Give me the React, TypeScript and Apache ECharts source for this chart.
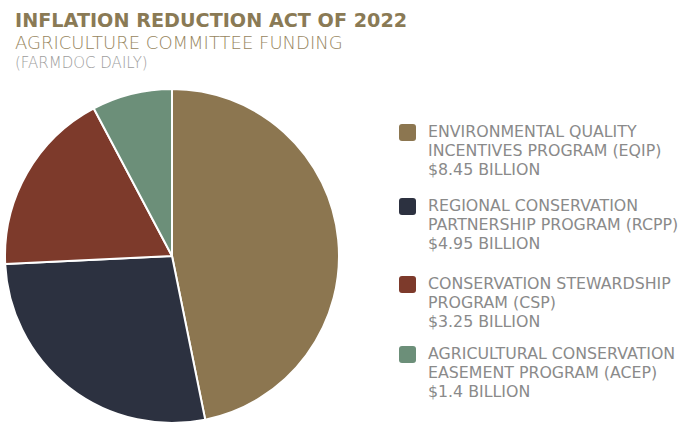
import React, { useEffect, useRef } from "react";
import * as echarts from "echarts";

const programNames = [
  ["ENVIRONMENTAL QUALITY", "INCENTIVES PROGRAM (EQIP)"],
  ["REGIONAL CONSERVATION", "PARTNERSHIP PROGRAM (RCPP)"],
  ["CONSERVATION STEWARDSHIP", "PROGRAM (CSP)"],
  ["AGRICULTURAL CONSERVATION", "EASEMENT PROGRAM (ACEP)"],
];
const fundingBillions = [8.45, 4.95, 3.25, 1.4];
const fundingLabels = ["$8.45 BILLION", "$4.95 BILLION", "$3.25 BILLION", "$1.4 BILLION"];
const sliceColors = ["#8c7650", "#2c3140", "#7d3a2b", "#6c8f79"];
const legendTops = [124, 198, 276, 346];

const FONT = "DejaVu Sans";

export default function App() {
  const ref = useRef<HTMLDivElement>(null);
  useEffect(() => {
    if (!ref.current) return;
    const chart = echarts.init(ref.current, null, { renderer: "svg" });
    const legendGraphics: any[] = [];
    programNames.forEach((lines, i) => {
      const top = legendTops[i];
      legendGraphics.push({
        type: "rect",
        left: 399,
        top: top,
        shape: { width: 17, height: 17, r: 3 },
        style: { fill: sliceColors[i] },
      });
      legendGraphics.push({
        type: "text",
        left: 428,
        top: top - 2,
        style: {
          text: [...lines, fundingLabels[i]].join("\n"),
          fill: "#8a8a8a",
          font: `15.8px "${FONT}"`,
          lineHeight: 19,
        },
      });
    });
    chart.setOption({
      animation: false,
      backgroundColor: "#ffffff",
      title: [
        {
          text: "INFLATION REDUCTION ACT OF 2022",
          left: 10,
          top: 6,
          textStyle: { fontFamily: FONT, fontWeight: "bold", fontSize: 19.2, color: "#8a7a55" },
        },
        {
          text: "AGRICULTURE COMMITTEE FUNDING",
          left: 10,
          top: 28,
          textStyle: { fontFamily: FONT, fontWeight: 200, fontSize: 18, color: "#978660" },
        },
        {
          text: "(FARMDOC DAILY)",
          left: 10,
          top: 50,
          textStyle: { fontFamily: FONT, fontWeight: 200, fontSize: 15, color: "#9c9c9c" },
        },
      ],
      series: [
        {
          type: "pie",
          center: [172, 256],
          radius: [0, 167],
          startAngle: 90,
          clockwise: true,
          label: { show: false },
          labelLine: { show: false },
          itemStyle: { borderColor: "#ffffff", borderWidth: 2 },
          emphasis: { disabled: true },
          data: fundingBillions.map((v, i) => ({
            name: programNames[i].join(" "),
            value: v,
            itemStyle: { color: sliceColors[i] },
          })),
        },
      ],
      graphic: legendGraphics,
    });
    return () => chart.dispose();
  }, []);
  return (
    <div
      ref={ref}
      style={{ position: "absolute", left: 0, top: 0, width: 698, height: 426 }}
    />
  );
}
